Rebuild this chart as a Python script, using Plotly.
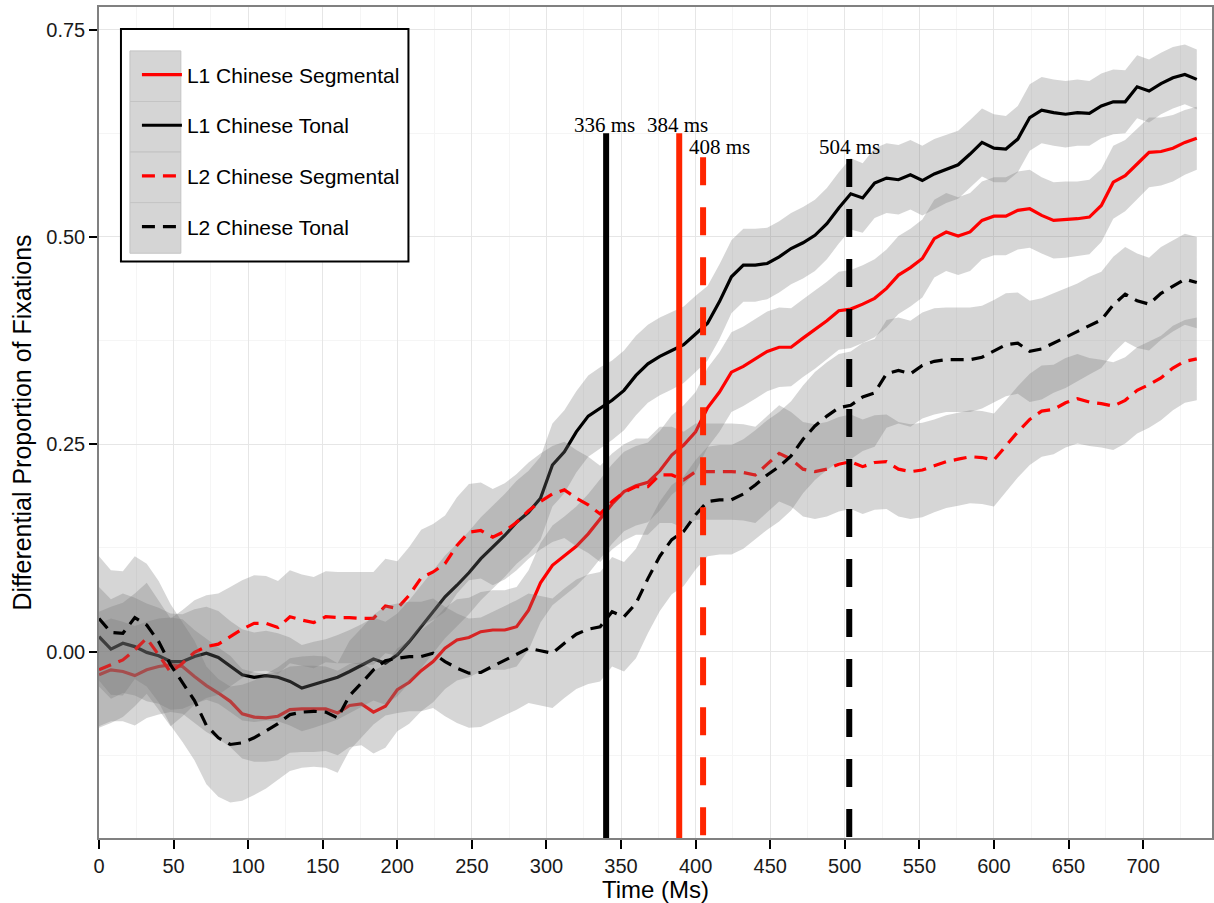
import plotly.graph_objects as go

# ---------------- data ----------------
TIME = list(range(0, 737, 8))  # ms

L1_SEG = [-0.028, -0.022, -0.024, -0.029, -0.022, -0.018, -0.016, -0.018, -0.030, -0.041,
          -0.050, -0.060, -0.075, -0.079, -0.080, -0.078, -0.070, -0.069, -0.069, -0.069,
          -0.074, -0.065, -0.063, -0.073, -0.066, -0.046, -0.037, -0.023, -0.012, 0.004,
          0.014, 0.017, 0.024, 0.026, 0.026, 0.030, 0.050, 0.083, 0.104, 0.115,
          0.127, 0.142, 0.160, 0.178, 0.193, 0.200, 0.204, 0.218, 0.237, 0.249,
          0.265, 0.294, 0.313, 0.337, 0.344, 0.353, 0.362, 0.367, 0.367, 0.378,
          0.388, 0.399, 0.411, 0.413, 0.419, 0.426, 0.438, 0.454, 0.463, 0.474,
          0.498, 0.506, 0.501, 0.506, 0.520, 0.525, 0.525, 0.532, 0.534, 0.526,
          0.520, 0.521, 0.522, 0.524, 0.538, 0.566, 0.574, 0.588, 0.602, 0.603,
          0.607, 0.614, 0.619]

L1_TON = [0.018, 0.003, 0.010, 0.006, -0.001, -0.005, -0.012, -0.012, -0.006, -0.002,
          -0.007, -0.018, -0.028, -0.031, -0.029, -0.031, -0.036, -0.044, -0.040, -0.036,
          -0.031, -0.024, -0.017, -0.009, -0.014, -0.004, 0.012, 0.030, 0.048, 0.066,
          0.080, 0.095, 0.112, 0.126, 0.140, 0.156, 0.168, 0.185, 0.225, 0.241,
          0.265, 0.284, 0.294, 0.303, 0.315, 0.333, 0.347, 0.356, 0.363, 0.370,
          0.383, 0.396, 0.422, 0.452, 0.466, 0.466, 0.468, 0.476, 0.486, 0.493,
          0.502, 0.516, 0.535, 0.552, 0.547, 0.565, 0.571, 0.569, 0.575, 0.568,
          0.576, 0.582, 0.587, 0.600, 0.614, 0.607, 0.606, 0.618, 0.644, 0.653,
          0.650, 0.648, 0.650, 0.649, 0.658, 0.663, 0.663, 0.681, 0.676, 0.685,
          0.692, 0.696, 0.690]

L2_SEG = [-0.022, -0.016, -0.010, 0.002, 0.016, -0.004, -0.025, -0.014, -0.001, 0.006,
          0.009, 0.018, 0.027, 0.034, 0.034, 0.029, 0.042, 0.038, 0.035, 0.042,
          0.041, 0.041, 0.040, 0.040, 0.055, 0.052, 0.068, 0.089, 0.096, 0.106,
          0.128, 0.144, 0.146, 0.138, 0.145, 0.156, 0.170, 0.181, 0.190, 0.195,
          0.185, 0.177, 0.166, 0.181, 0.192, 0.199, 0.199, 0.213, 0.213, 0.207,
          0.217, 0.217, 0.217, 0.217, 0.216, 0.213, 0.226, 0.239, 0.232, 0.220,
          0.217, 0.220, 0.226, 0.229, 0.223, 0.228, 0.229, 0.220, 0.217, 0.219,
          0.224, 0.229, 0.232, 0.235, 0.234, 0.231, 0.248, 0.265, 0.280, 0.290,
          0.292, 0.300, 0.305, 0.301, 0.299, 0.296, 0.303, 0.315, 0.322, 0.330,
          0.342, 0.350, 0.353]

L2_TON = [0.040, 0.023, 0.022, 0.041, 0.032, 0.012, -0.016, -0.037, -0.059, -0.089,
          -0.104, -0.112, -0.110, -0.104, -0.096, -0.087, -0.076, -0.073, -0.072, -0.073,
          -0.080, -0.053, -0.038, -0.022, -0.011, -0.008, -0.006, -0.006, -0.002, -0.012,
          -0.020, -0.026, -0.025, -0.018, -0.011, -0.004, 0.004, 0.001, -0.002, 0.010,
          0.021, 0.027, 0.030, 0.048, 0.042, 0.058, 0.088, 0.115, 0.135, 0.145,
          0.165, 0.181, 0.183, 0.183, 0.190, 0.201, 0.213, 0.223, 0.236, 0.256,
          0.272, 0.284, 0.294, 0.297, 0.307, 0.312, 0.335, 0.339, 0.335, 0.345,
          0.350, 0.352, 0.352, 0.352, 0.355, 0.362, 0.370, 0.372, 0.362, 0.365,
          0.372, 0.378, 0.385, 0.393, 0.400, 0.418, 0.431, 0.423, 0.419, 0.432,
          0.441, 0.449, 0.445]

# ribbon half-widths (confidence band)
HW_L1_SEG = [0.062, 0.062, 0.060, 0.060, 0.058, 0.058, 0.057, 0.057, 0.056, 0.056,
             0.055, 0.055, 0.054, 0.054, 0.053, 0.053, 0.052, 0.052, 0.052, 0.051,
             0.051, 0.050, 0.050, 0.050, 0.050, 0.050, 0.050, 0.049, 0.049, 0.049,
             0.049, 0.048, 0.048, 0.048, 0.048, 0.048, 0.048, 0.048, 0.048, 0.048,
             0.048, 0.048, 0.048, 0.048, 0.048, 0.048, 0.048, 0.048, 0.048, 0.048,
             0.048, 0.048, 0.048, 0.048, 0.048, 0.048, 0.048, 0.048, 0.047, 0.047,
             0.047, 0.047, 0.047, 0.047, 0.047, 0.047, 0.047, 0.047, 0.047, 0.047,
             0.047, 0.047, 0.047, 0.047, 0.047, 0.047, 0.047, 0.047, 0.047, 0.046,
             0.046, 0.046, 0.045, 0.045, 0.044, 0.044, 0.043, 0.043, 0.042, 0.041,
             0.040, 0.039, 0.038]

HW_L1_TON = [0.060, 0.060, 0.060, 0.059, 0.059, 0.058, 0.058, 0.057, 0.057, 0.056,
             0.056, 0.055, 0.055, 0.054, 0.054, 0.053, 0.053, 0.052, 0.052, 0.051,
             0.051, 0.050, 0.050, 0.050, 0.050, 0.050, 0.050, 0.050, 0.050, 0.050,
             0.050, 0.050, 0.050, 0.050, 0.050, 0.050, 0.050, 0.050, 0.050, 0.050,
             0.049, 0.049, 0.049, 0.048, 0.048, 0.048, 0.047, 0.047, 0.047, 0.046,
             0.046, 0.045, 0.045, 0.044, 0.044, 0.044, 0.043, 0.043, 0.043, 0.043,
             0.043, 0.043, 0.043, 0.043, 0.042, 0.042, 0.042, 0.042, 0.042, 0.042,
             0.042, 0.041, 0.041, 0.041, 0.041, 0.041, 0.040, 0.040, 0.040, 0.040,
             0.040, 0.040, 0.040, 0.039, 0.039, 0.039, 0.038, 0.038, 0.038, 0.037,
             0.037, 0.036, 0.036]

HW_L2_SEG = [0.070, 0.070, 0.069, 0.068, 0.067, 0.066, 0.065, 0.064, 0.063, 0.062,
             0.061, 0.060, 0.059, 0.058, 0.057, 0.056, 0.056, 0.055, 0.055, 0.055,
             0.055, 0.055, 0.056, 0.056, 0.057, 0.057, 0.058, 0.058, 0.058, 0.058,
             0.058, 0.058, 0.058, 0.058, 0.058, 0.058, 0.058, 0.058, 0.058, 0.058,
             0.058, 0.058, 0.058, 0.058, 0.058, 0.058, 0.058, 0.058, 0.058, 0.058,
             0.058, 0.058, 0.058, 0.058, 0.058, 0.058, 0.058, 0.058, 0.057, 0.057,
             0.057, 0.057, 0.057, 0.057, 0.057, 0.057, 0.057, 0.057, 0.057, 0.057,
             0.056, 0.056, 0.056, 0.056, 0.056, 0.056, 0.055, 0.055, 0.055, 0.055,
             0.054, 0.054, 0.054, 0.053, 0.053, 0.053, 0.052, 0.052, 0.052, 0.051,
             0.051, 0.050, 0.050]

HW_L2_TON = [0.075, 0.075, 0.075, 0.074, 0.074, 0.073, 0.073, 0.072, 0.072, 0.071,
             0.071, 0.070, 0.070, 0.069, 0.069, 0.068, 0.068, 0.067, 0.067, 0.067,
             0.066, 0.066, 0.066, 0.066, 0.066, 0.066, 0.066, 0.066, 0.066, 0.066,
             0.066, 0.066, 0.066, 0.066, 0.066, 0.066, 0.066, 0.066, 0.066, 0.066,
             0.066, 0.066, 0.066, 0.066, 0.066, 0.066, 0.066, 0.066, 0.066, 0.066,
             0.066, 0.066, 0.066, 0.066, 0.066, 0.066, 0.066, 0.066, 0.066, 0.065,
             0.065, 0.065, 0.065, 0.065, 0.065, 0.065, 0.065, 0.064, 0.064, 0.064,
             0.064, 0.063, 0.063, 0.063, 0.062, 0.062, 0.062, 0.061, 0.061, 0.061,
             0.060, 0.060, 0.059, 0.059, 0.058, 0.058, 0.057, 0.057, 0.056, 0.056,
             0.055, 0.055, 0.055]

SERIES_NAMES = ["L1 Chinese Segmental", "L1 Chinese Tonal",
                "L2 Chinese Segmental", "L2 Chinese Tonal"]
SERIES_VALUES = [L1_SEG, L1_TON, L2_SEG, L2_TON]
SERIES_HW = [HW_L1_SEG, HW_L1_TON, HW_L2_SEG, HW_L2_TON]

# divergence markers
MARK_LABELS = ["336 ms", "384 ms", "408 ms", "504 ms"]
MARK_X = [340, 389, 405, 503]
MARK_TOP = [0.625, 0.625, 0.596, 0.594]
LABEL_X = [339, 388, 416, 503]
LABEL_Y = [0.635, 0.635, 0.608, 0.608]

X_TICKS = list(range(0, 701, 50))
Y_TICKS = [0.0, 0.25, 0.50, 0.75]
Y_TICK_TEXT = ["0.00", "0.25", "0.50", "0.75"]

# ---------------- styling ----------------
LINE_COLORS = ["#ff0000", "#000000", "#ff0000", "#000000"]
LINE_DASH = ["solid", "solid", "13px,8px", "13px,8px"]
MARK_COLORS = ["#000000", "#ff2500", "#ff2500", "#000000"]
MARK_DASH = ["solid", "solid", "28px,22px", "28px,22px"]
RIBBON = "rgba(120,120,120,0.30)"
SANS = "Liberation Sans, Arial, sans-serif"
SERIF = "Liberation Serif, Times New Roman, serif"

fig = go.Figure()

for i, (name, vals, hw) in enumerate(zip(SERIES_NAMES, SERIES_VALUES, SERIES_HW)):
    upper = [v + h for v, h in zip(vals, hw)]
    lower = [v - h for v, h in zip(vals, hw)]
    fig.add_trace(go.Scatter(
        x=TIME + TIME[::-1], y=upper + lower[::-1],
        fill="toself", fillcolor=RIBBON, line=dict(width=0),
        mode="lines", hoverinfo="skip", showlegend=False))
    fig.add_trace(go.Scatter(
        x=TIME, y=vals, mode="lines", name=name, legendgroup=name,
        line=dict(color=LINE_COLORS[i], width=3.2, dash=LINE_DASH[i])))

for i in range(len(MARK_X)):
    fig.add_trace(go.Scatter(
        x=[MARK_X[i], MARK_X[i]], y=[MARK_TOP[i], -0.30], mode="lines",
        line=dict(color=MARK_COLORS[i], width=6, dash=MARK_DASH[i]),
        showlegend=False, hoverinfo="skip"))
    fig.add_annotation(x=LABEL_X[i], y=LABEL_Y[i], text=MARK_LABELS[i],
                       showarrow=False, xref="x", yref="y",
                       font=dict(family=SERIF, size=21, color="black"))

# legend background box and gray key cells (paper coordinates)
L, R, T, B = 99.0, 1214.0, 7.0, 840.0
def px(xp):
    return (xp - L) / (R - L)
def py(yp):
    return 1 - (yp - T) / (B - T)

shapes = [dict(type="rect", xref="paper", yref="paper",
               x0=px(121), x1=px(409), y0=py(262), y1=py(29),
               fillcolor="white", line=dict(color="black", width=2), layer="above")]
key_top = 51.0
key_h = 50.7
for k in range(4):
    shapes.append(dict(type="rect", xref="paper", yref="paper",
                       x0=px(130), x1=px(181),
                       y0=py(key_top + (k + 1) * key_h), y1=py(key_top + k * key_h),
                       fillcolor="#d5d5d5", line=dict(color="#c4c4c4", width=1),
                       layer="above"))

fig.update_layout(
    width=1214, height=903,
    margin=dict(l=99, r=0, t=7, b=63),
    paper_bgcolor="white", plot_bgcolor="white",
    font=dict(family=SANS, color="black"),
    shapes=shapes,
    showlegend=True,
    legend=dict(x=px(137), y=py(54.5), xanchor="left", yanchor="top",
                bgcolor="rgba(0,0,0,0)", borderwidth=0,
                font=dict(family=SANS, size=21, color="black"),
                tracegroupgap=20.4, itemwidth=40),
    xaxis=dict(range=[0, 746.2], tickvals=X_TICKS, ticks="outside", ticklen=9,
               tickwidth=2, tickcolor="black", tickfont=dict(size=20, color="#1a1a1a"),
               showline=True, linecolor="#808080", linewidth=1.5, mirror=True,
               showgrid=True, gridcolor="#e6e6e6", gridwidth=1.2,
               minor=dict(dtick=25, showgrid=True, gridcolor="#f5f5f5", gridwidth=1),
               zeroline=False,
               title=dict(text="Time (Ms)", font=dict(size=24), standoff=9)),
    yaxis=dict(range=[-0.2248, 0.7773], tickvals=Y_TICKS, ticktext=Y_TICK_TEXT,
               ticks="outside", ticklen=8, tickwidth=2, tickcolor="black",
               tickfont=dict(size=20, color="#1a1a1a"),
               showline=True, linecolor="#808080", linewidth=1.5, mirror=True,
               showgrid=True, gridcolor="#e6e6e6", gridwidth=1.2,
               minor=dict(dtick=0.125, showgrid=True, gridcolor="#f5f5f5", gridwidth=1),
               zeroline=False,
               title=dict(text="Differential Proportion of Fixations",
                          font=dict(size=25), standoff=8)),
)

fig.write_html("out.html")
